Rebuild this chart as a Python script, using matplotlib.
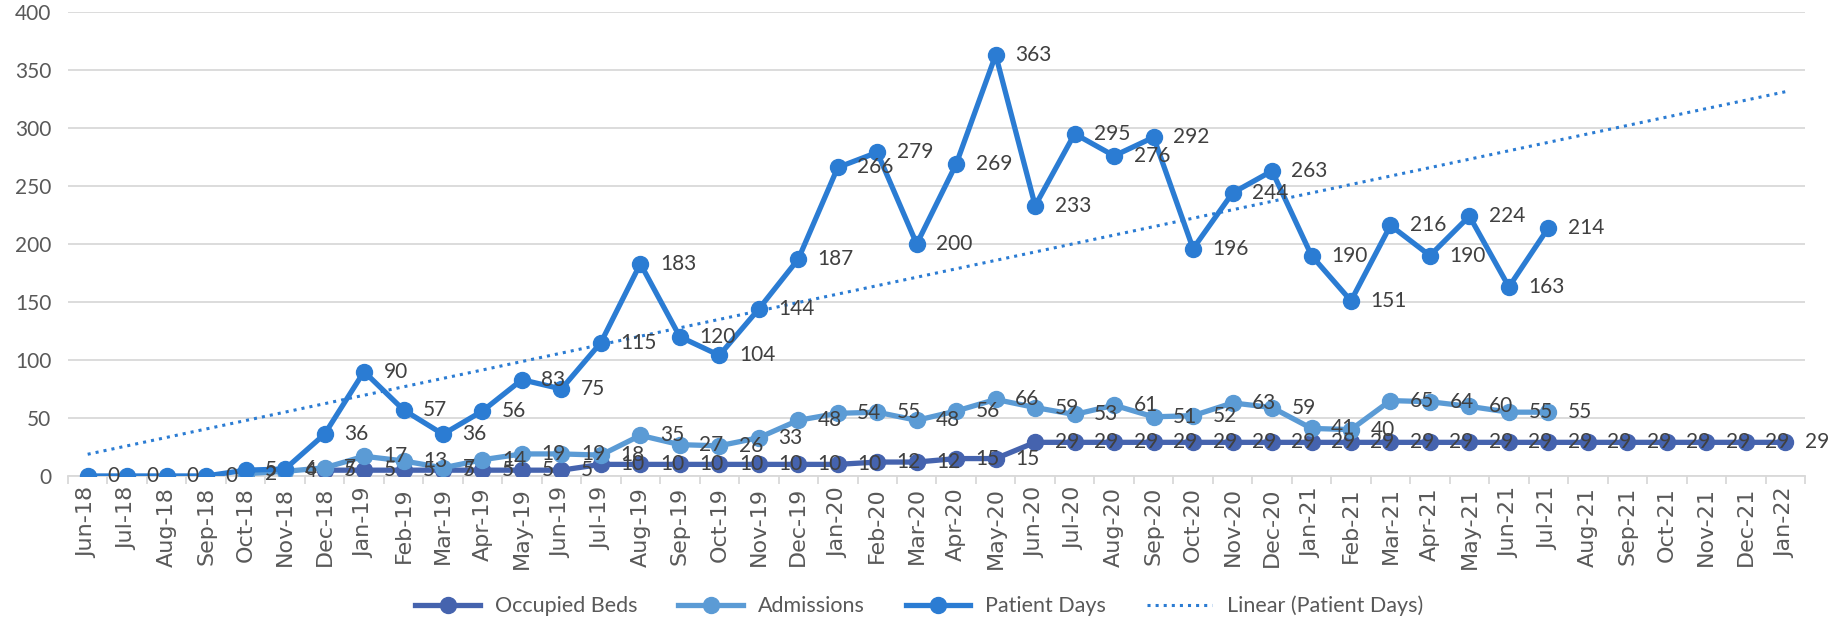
import numpy as np
import matplotlib
matplotlib.use("Agg")
import matplotlib.pyplot as plt

months = ["Jun-18", "Jul-18", "Aug-18", "Sep-18", "Oct-18", "Nov-18", "Dec-18",
          "Jan-19", "Feb-19", "Mar-19", "Apr-19", "May-19", "Jun-19", "Jul-19", "Aug-19",
          "Sep-19", "Oct-19", "Nov-19", "Dec-19",
          "Jan-20", "Feb-20", "Mar-20", "Apr-20", "May-20", "Jun-20", "Jul-20", "Aug-20",
          "Sep-20", "Oct-20", "Nov-20", "Dec-20",
          "Jan-21", "Feb-21", "Mar-21", "Apr-21", "May-21", "Jun-21", "Jul-21", "Aug-21",
          "Sep-21", "Oct-21", "Nov-21", "Dec-21", "Jan-22"]

nan = np.nan
occupied_beds = [nan, nan, nan, nan, nan, nan, 5,
                 5, 5, 5, 5, 5, 5, 10, 10, 10, 10, 10, 10,
                 10, 12, 12, 15, 15, 29, 29, 29, 29, 29, 29, 29,
                 29, 29, 29, 29, 29, 29, 29, 29, 29, 29, 29, 29, 29]
admissions = [nan, nan, nan, nan, 2, 4, 7,
              17, 13, 7, 14, 19, 19, 18, 35, 27, 26, 33, 48,
              54, 55, 48, 56, 66, 59, 53, 61, 51, 52, 63, 59,
              41, 40, 65, 64, 60, 55, 55] + [nan] * 6
patient_days = [0, 0, 0, 0, 5, 6, 36,
                90, 57, 36, 56, 83, 75, 115, 183, 120, 104, 144, 187,
                266, 279, 200, 269, 363, 233, 295, 276, 292, 196, 244, 263,
                190, 151, 216, 190, 224, 163, 214] + [nan] * 6

C_OCC = "#4563AE"
C_ADM = "#5B9BD5"
C_PD = "#2B7CD3"
TXT = "#404040"
GRID = "#D9D9D9"

plt.rcParams["font.family"] = ["Lato", "DejaVu Sans"]

fig = plt.figure(figsize=(18.31, 6.23), dpi=100)
ax = fig.add_axes([0.0371, 0.236, 0.9487, 0.7447])

x = np.arange(len(months))
series = [("Occupied Beds", occupied_beds, C_OCC),
          ("Admissions", admissions, C_ADM),
          ("Patient Days", patient_days, C_PD)]
handles = []
for name, vals, col in series:
    v = np.array(vals, float)
    h, = ax.plot(x, v, "-o", color=col, lw=3.8, ms=11.5, label=name, zorder=3)
    handles.append(h)
    for xi, yi in zip(x, v):
        if np.isnan(yi):
            continue
        ax.annotate(f"{int(yi)}", (xi, yi), xytext=(14, 0), textcoords="offset points",
                    ha="left", va="center", fontsize=15, color=TXT, zorder=5)

# linear trendline over patient days (Excel-style x = 1..n)
pd_arr = np.array(patient_days, float)
ok = ~np.isnan(pd_arr)
k, b = np.polyfit(x[ok] + 1, pd_arr[ok], 1)
trend, = ax.plot(x, k * (x + 1) + b, ":", color=C_PD, lw=2.2, label="Linear (Patient Days)", zorder=2)
handles.append(trend)

ax.set_xlim(-0.5, len(months) - 0.5)
ax.set_ylim(0, 400)
ax.set_yticks(np.arange(0, 401, 50))
ax.yaxis.grid(True, color=GRID, lw=1.3)
ax.set_axisbelow(True)

ax.set_xticks(np.arange(-0.5, len(months), 1.0))
ax.set_xticklabels([])
ax.tick_params(axis="x", which="major", length=6, color=GRID, width=1.3)
ax.set_xticks(x, minor=True)
ax.set_xticklabels(months, minor=True, rotation=90, fontsize=16, color="#595959",
                   fontfamily="DejaVu Sans")
ax.tick_params(axis="x", which="minor", length=0, pad=8)
ax.tick_params(axis="y", length=0, labelsize=15, labelcolor="#595959", pad=12)

for s in ["top", "right", "left"]:
    ax.spines[s].set_visible(False)
ax.spines["bottom"].set_color(GRID)
ax.spines["bottom"].set_linewidth(1.3)

fig.legend(handles=handles, loc="lower center", bbox_to_anchor=(0.502, -0.02), ncol=4,
           frameon=False, fontsize=15.5, labelcolor="#595959", handlelength=3.0,
           handletextpad=0.7, columnspacing=1.9)

fig.savefig("out.png", dpi=100)
